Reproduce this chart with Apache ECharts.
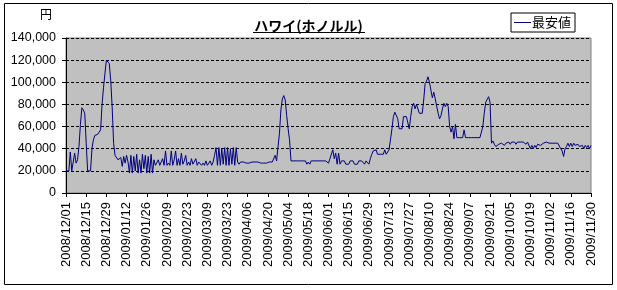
<!DOCTYPE html>
<html><head><meta charset="utf-8">
<script src="https://cdn.jsdelivr.net/npm/echarts@6/dist/echarts.min.js"></script>
<style>html,body{margin:0;padding:0;background:#fff}#c{width:617px;height:290px}</style>
</head><body><div id="c"></div>
<script>
// Title / legend / axis texts
const titleText = 'ハワイ(ホノルル)';
const seriesName = '最安値';
const yUnit = '円';
const yTicks = [0, 20000, 40000, 60000, 80000, 100000, 120000, 140000];
// Daily dates 2008/12/01 .. 2009/11/30
const startDate = [2008, 12, 1];
const dayCount = 365;
const categories = [];
for (let i = 0; i < dayCount; i++) {
  const d = new Date(Date.UTC(startDate[0], startDate[1] - 1, startDate[2] + i));
  categories.push(d.getUTCFullYear() + '/' + String(d.getUTCMonth() + 1).padStart(2, '0') + '/' + String(d.getUTCDate()).padStart(2, '0'));
}
// Lowest price per day (yen)
const lowestPrice = [
 20000,20000,20000,37000,20000,20000,36000,27000,30000,42000,
 62000,77000,75000,72000,45000,20000,20000,20000,40000,48000,
 52000,53000,53000,54000,57000,80000,95000,108000,120000,120000,
 117000,102000,78000,45000,34000,33000,30000,29000,32000,24000,
 33000,27000,34000,28000,18000,34000,18000,33000,20000,35000,
 18000,30000,18000,35000,22000,34000,18000,33000,18000,35000,
 18000,30000,25000,25000,30000,25000,25000,31000,25000,38000,
 25000,27000,25000,38000,25000,30000,38000,25000,31000,25000,
 36000,26000,29000,34000,25000,28000,25000,31000,26000,25000,
 31000,25000,28000,29000,25000,27000,25000,29000,25000,27000,
 29000,25000,28000,34000,41000,25000,41000,25000,40000,26000,
 41000,25000,41000,25000,40000,26000,41000,25000,41000,28000,
 26000,28000,27000,28000,28000,27000,28000,27000,28000,28000,
 27000,28000,27000,28000,28000,27000,28000,27000,28000,27000,
 28000,28000,27000,28000,28000,34000,29000,30000,54000,75000,
 85000,88000,84000,70000,58000,48000,29000,29000,29000,29000,
 29000,29000,29000,29000,29000,29000,29000,26000,28000,26000,
 29000,29000,29000,29000,29000,29000,29000,29000,29000,29000,
 29000,29000,27000,31000,32000,39000,31000,36000,26000,36000,
 26000,29000,29000,29000,26000,26000,26000,29000,29000,29000,
 26000,26000,26000,29000,29000,29000,29000,26000,29000,29000,
 26000,31000,35000,38000,39000,39000,35000,35000,35000,35000,
 35000,39000,35000,35000,39000,39000,58000,69000,73000,72000,
 67000,58000,58000,58000,69000,69000,69000,69000,58000,69000,
 78000,81000,76000,80000,80000,72000,72000,72000,84000,99000,
 101000,105000,100000,99000,86000,91000,85000,84000,72000,67000,
 70000,76000,81000,78000,81000,78000,60000,55000,60000,49000,
 62000,50000,50000,50000,50000,50000,57000,50000,50000,50000,
 50000,50000,50000,50000,50000,50000,50000,50000,50000,60000,
 72000,82000,82000,87000,82000,45000,47000,44000,42000,43000,
 44000,43000,45000,45000,43000,45000,44000,46000,44000,46000,
 45000,46000,44000,46000,45000,46000,45000,46000,46000,44000,
 46000,45000,40000,43000,40000,43000,41000,44000,45000,43000,
 42000,45000,44000,46000,46000,45000,45000,45000,45000,45000,
 45000,45000,45000,40000,38000,33000,40000,42000,45000,42000,
 45000,42000,45000,43000,42000,44000,42000,41000,43000,40000,
 43000,41000,43000,40000,43000
];

const chart = echarts.init(document.getElementById('c'), null, {renderer: 'canvas'});
const FONT = 'Liberation Sans';
chart.setOption({
  animation: false,
  backgroundColor: '#ffffff',
  textStyle: {fontFamily: FONT, color: '#000'},
  grid: {left: 66, right: 26, top: 38, bottom: 97, show: true, backgroundColor: '#C0C0C0', borderColor: '#808080', borderWidth: 1},
  title: {text: titleText, left: 'center', top: 14, textStyle: {fontFamily: 'Noto Sans CJK JP', fontSize: 14, fontWeight: 'bold', color: '#000'}},
  legend: {data: [{name: seriesName, icon: 'rect'}], left: 511, top: 13, orient: 'horizontal', borderColor: '#000', borderWidth: 1, padding: [3, 4, 3, 3], itemWidth: 17, itemHeight: 1, itemGap: 2,
    itemStyle: {color: '#000080'},
    textStyle: {fontFamily: 'Noto Sans CJK JP', fontSize: 13, color: '#000', padding: [0, 0, 0, -4]}},
  xAxis: {
    type: 'category', data: categories, boundaryGap: false,
    axisLine: {lineStyle: {color: '#000', width: 1}},
    axisTick: {show: true, interval: 13, length: 4, lineStyle: {color: '#000'}},
    axisLabel: {interval: 13, rotate: 90, fontSize: 13, color: '#000', margin: 9, fontFamily: FONT},
    splitLine: {show: false}
  },
  yAxis: {
    type: 'value', min: yTicks[0], max: yTicks[yTicks.length - 1], interval: yTicks[1] - yTicks[0],
    axisLine: {show: true, lineStyle: {color: '#000', width: 1}},
    axisTick: {show: true, length: 4, lineStyle: {color: '#000'}},
    axisLabel: {fontSize: 12.5, color: '#000', margin: 10, fontFamily: FONT,
      formatter: v => v.toLocaleString('en-US')},
    splitLine: {show: true, lineStyle: {color: '#000', type: [3, 2], width: 1}}
  },
  series: [{
    name: seriesName, type: 'line', data: lowestPrice, symbol: 'none', showSymbol: false,
    lineStyle: {color: '#000080', width: 1}, itemStyle: {color: '#000080'}
  }],
  graphic: [
    {type: 'rect', shape: {x: 4.5, y: 3.5, width: 608, height: 281}, style: {fill: null, stroke: '#000', lineWidth: 1}, silent: true, z: -1},
    {type: 'text', left: 40, top: 8, style: {text: yUnit, font: '12px "Noto Sans CJK JP"', fill: '#000'}},
    {type: 'line', shape: {x1: 253, y1: 32.5, x2: 365, y2: 32.5}, style: {stroke: '#000', lineWidth: 1}}
  ]
});
</script></body></html>
